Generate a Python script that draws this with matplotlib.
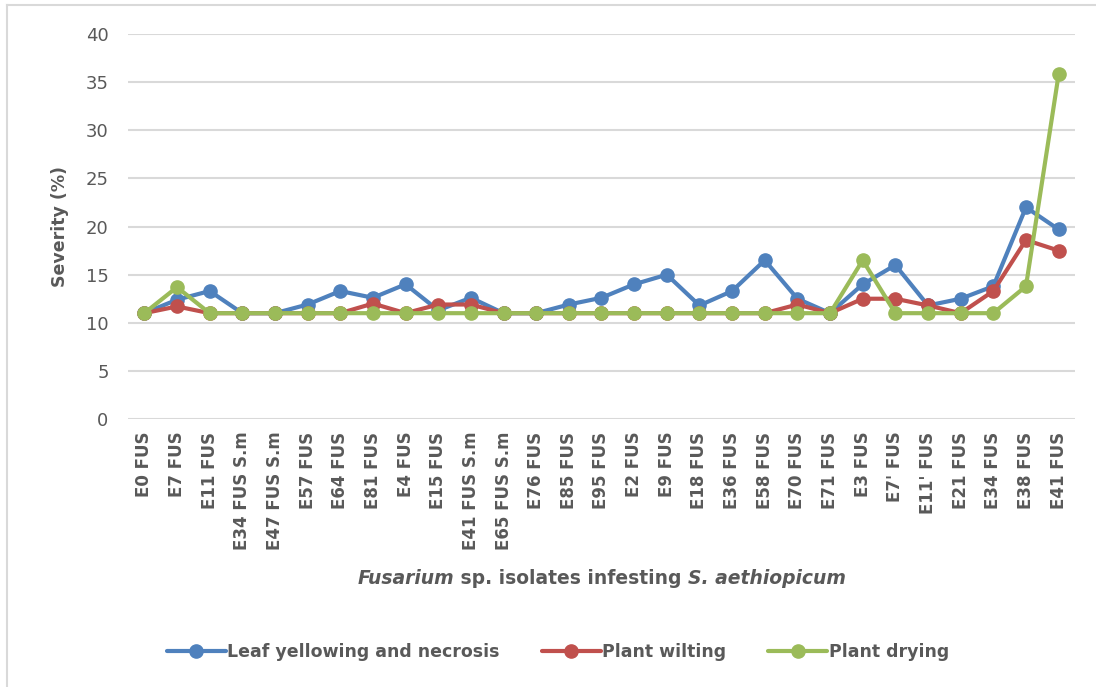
import matplotlib
matplotlib.use('Agg')
import matplotlib.pyplot as plt
from matplotlib.lines import Line2D

plt.rcParams['font.family'] = ['DejaVu Sans']

isolates = ['E0 FUS', 'E7 FUS', 'E11 FUS', 'E34 FUS S.m', 'E47 FUS S.m', 'E57 FUS',
            'E64 FUS', 'E81 FUS', 'E4 FUS', 'E15 FUS', 'E41 FUS S.m', 'E65 FUS S.m',
            'E76 FUS', 'E85 FUS', 'E95 FUS', 'E2 FUS', 'E9 FUS', 'E18 FUS', 'E36 FUS',
            'E58 FUS', 'E70 FUS', 'E71 FUS', 'E3 FUS', "E7' FUS", "E11' FUS",
            'E21 FUS', 'E34 FUS', 'E38 FUS', 'E41 FUS']

leaf_yellowing = [11.0, 12.4, 13.3, 11.0, 11.0, 11.9, 13.3, 12.6, 14.0, 11.3,
                  12.6, 11.0, 11.0, 11.9, 12.6, 14.0, 15.0, 11.8, 13.3, 16.5,
                  12.5, 11.0, 14.0, 16.0, 11.8, 12.5, 13.8, 22.0, 19.7]
plant_wilting = [11.0, 11.7, 11.0, 11.0, 11.0, 11.0, 11.0, 12.0, 11.0, 11.9,
                 11.9, 11.0, 11.0, 11.0, 11.0, 11.0, 11.0, 11.0, 11.0, 11.0,
                 11.9, 11.0, 12.5, 12.5, 11.8, 11.0, 13.3, 18.6, 17.5]
plant_drying = [11.0, 13.7, 11.0, 11.0, 11.0, 11.0, 11.0, 11.0, 11.0, 11.0,
                11.0, 11.0, 11.0, 11.0, 11.0, 11.0, 11.0, 11.0, 11.0, 11.0,
                11.0, 11.0, 16.5, 11.0, 11.0, 11.0, 11.0, 13.8, 35.8]

series = [
    ('Leaf yellowing and necrosis', leaf_yellowing, '#4F81BD'),
    ('Plant wilting', plant_wilting, '#C0504D'),
    ('Plant drying', plant_drying, '#9BBB59'),
]

# x-axis title pieces: (text, italic?)
xlabel_parts = [('Fusarium', True), (' sp. isolates infesting ', False),
                ('S. aethiopicum', True)]

text_grey = '#595959'
grid_grey = '#D9D9D9'

fig = plt.figure(figsize=(10.96, 6.87), dpi=100)
ax = fig.add_axes([0.1168, 0.390, 0.864, 0.5605])

x = list(range(len(isolates)))
for name, vals, col in series:
    ax.plot(x, vals, color=col, lw=3.0, marker='o', ms=9.5, label=name,
            solid_capstyle='round', solid_joinstyle='round')

ax.set_xlim(-0.5, len(isolates) - 0.5)
ax.set_ylim(0, 40)
ax.set_yticks(range(0, 41, 5))
ax.set_xticks(x)
ax.set_xticklabels(isolates, rotation=90, fontsize=12, fontweight='bold',
                   color=text_grey)
ax.tick_params(axis='y', labelsize=13, colors=text_grey, length=0, pad=14)
ax.tick_params(axis='x', length=0, pad=9)
ax.yaxis.grid(True, color=grid_grey, lw=1.5)
ax.set_axisbelow(True)
for s in ax.spines.values():
    s.set_visible(False)

ax.set_ylabel('Severity (%)', fontsize=12.5, fontweight='bold', color=text_grey,
              labelpad=12)

# x title built from side-by-side pieces so part of it can be italic
pieces = []
for txt, ital in xlabel_parts:
    style = 'italic' if ital else 'normal'
    t = fig.text(0, 0.158, txt, ha='left', va='center', fontsize=13.5,
                 fontweight='bold', style=style, color=text_grey)
    pieces.append(t)

renderer = fig.canvas.get_renderer()
widths = [p.get_window_extent(renderer).width for p in pieces]
x0 = 0.549 * fig.bbox.width - sum(widths) / 2
for p, w in zip(pieces, widths):
    p.set_position((x0 / fig.bbox.width, 0.158))
    x0 += w

leg = fig.legend(loc='center', bbox_to_anchor=(0.509, 0.051), ncol=3, frameon=False,
                 fontsize=12.5, handlelength=3.4, columnspacing=2.4, handletextpad=0.1)
for t in leg.get_texts():
    t.set_color(text_grey)
    t.set_fontweight('bold')

# chart area border (top and left edges)
fig.add_artist(Line2D([0.0064, 0.0064], [0.0, 0.9927], color=grid_grey, lw=1.5,
                      transform=fig.transFigure))
fig.add_artist(Line2D([0.0064, 1.0], [0.9927, 0.9927], color=grid_grey, lw=1.5,
                      transform=fig.transFigure))

fig.savefig('out.png', dpi=100)
